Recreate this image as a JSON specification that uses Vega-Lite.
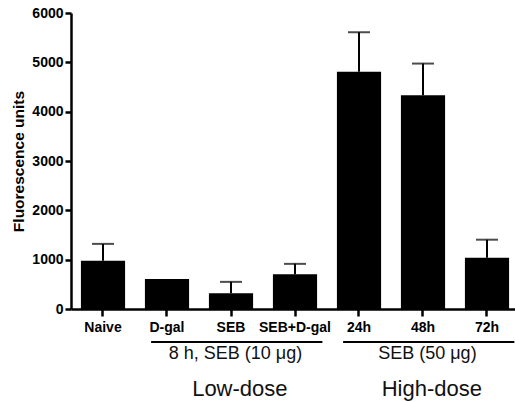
{
  "$schema": "https://vega.github.io/schema/vega-lite/v6.json",
  "width": 448,
  "height": 296,
  "autosize": "none",
  "padding": {"left": 71, "top": 13, "right": 0, "bottom": 93},
  "background": "white",
  "config": {
    "view": {"stroke": null},
    "font": "Liberation Sans"
  },
  "datasets": {
    "bars": [
      {"cat": "Naive", "value": 980, "upper": 1320},
      {"cat": "D-gal", "value": 610, "upper": null},
      {"cat": "SEB", "value": 320, "upper": 550},
      {"cat": "SEB+D-gal", "value": 705, "upper": 915},
      {"cat": "24h", "value": 4810, "upper": 5610},
      {"cat": "48h", "value": 4335, "upper": 4975},
      {"cat": "72h", "value": 1040, "upper": 1405}
    ],
    "groups": [
      {"cat": "D-gal", "cat2": "SEB+D-gal", "value": -669},
      {"cat": "24h", "cat2": "72h", "value": -669}
    ],
    "notes": [
      {"cat": "SEB", "value": -912, "label": "8 h, SEB (10 μg)"},
      {"cat": "48h", "value": -912, "label": "SEB (50 μg)"}
    ],
    "doses": [
      {"cat": "SEB", "value": -1622, "label": "Low-dose"},
      {"cat": "48h", "value": -1622, "label": "High-dose"}
    ]
  },
  "layer": [
    {
      "data": {"name": "bars"},
      "mark": {"type": "bar", "color": "black"},
      "encoding": {
        "x": {
          "field": "cat", "type": "nominal",
          "scale": {"domain": ["Naive", "D-gal", "SEB", "SEB+D-gal", "24h", "48h", "72h"], "paddingInner": 0.31, "paddingOuter": 0.155},
          "axis": {
            "title": null, "labelAngle": 0, "labelFont": "Liberation Sans", "labelFontWeight": "bold", "labelFontSize": 14,
            "labelColor": "black", "labelPadding": 4, "tickSize": 7, "tickWidth": 2.5, "tickColor": "black",
            "domainColor": "black", "domainWidth": 2.5
          }
        },
        "y": {
          "field": "value", "type": "quantitative",
          "scale": {"domain": [0, 6000], "nice": false},
          "axis": {
            "title": "Fluorescence units", "titleFont": "Liberation Sans", "titleFontWeight": "bold", "titleFontSize": 15.5,
            "titleColor": "black", "titlePadding": 5,
            "values": [0, 1000, 2000, 3000, 4000, 5000, 6000], "format": "d",
            "labelFont": "Liberation Sans", "labelFontWeight": "bold", "labelFontSize": 14, "labelColor": "black", "labelPadding": 2,
            "tickSize": 6, "tickWidth": 2.5, "tickColor": "black", "domainColor": "black", "domainWidth": 2.5, "grid": false
          }
        }
      }
    },
    {
      "data": {"name": "bars"},
      "mark": {"type": "rule", "color": "black", "strokeWidth": 2},
      "encoding": {
        "x": {"field": "cat", "type": "nominal"},
        "y": {"field": "value", "type": "quantitative"},
        "y2": {"field": "upper"}
      }
    },
    {
      "data": {"name": "bars"},
      "mark": {"type": "tick", "color": "black", "thickness": 2, "size": 22, "orient": "horizontal"},
      "encoding": {
        "x": {"field": "cat", "type": "nominal"},
        "y": {"field": "upper", "type": "quantitative"}
      }
    },
    {
      "data": {"name": "groups"},
      "mark": {"type": "rule", "color": "black", "strokeWidth": 2},
      "encoding": {
        "x": {"field": "cat", "type": "nominal", "bandPosition": 0.14},
        "x2": {"field": "cat2", "bandPosition": 1.12},
        "y": {"field": "value", "type": "quantitative"}
      }
    },
    {
      "data": {"name": "notes"},
      "mark": {"type": "text", "font": "Liberation Sans", "fontSize": 18, "color": "#111", "baseline": "middle", "align": "center"},
      "encoding": {
        "x": {"field": "cat", "type": "nominal", "bandPosition": 0.6},
        "y": {"field": "value", "type": "quantitative"},
        "text": {"field": "label"}
      }
    },
    {
      "data": {"name": "doses"},
      "mark": {"type": "text", "font": "Liberation Sans", "fontSize": 22, "color": "#111", "baseline": "middle", "align": "center"},
      "encoding": {
        "x": {"field": "cat", "type": "nominal", "bandPosition": 0.7},
        "y": {"field": "value", "type": "quantitative"},
        "text": {"field": "label"}
      }
    }
  ]
}
